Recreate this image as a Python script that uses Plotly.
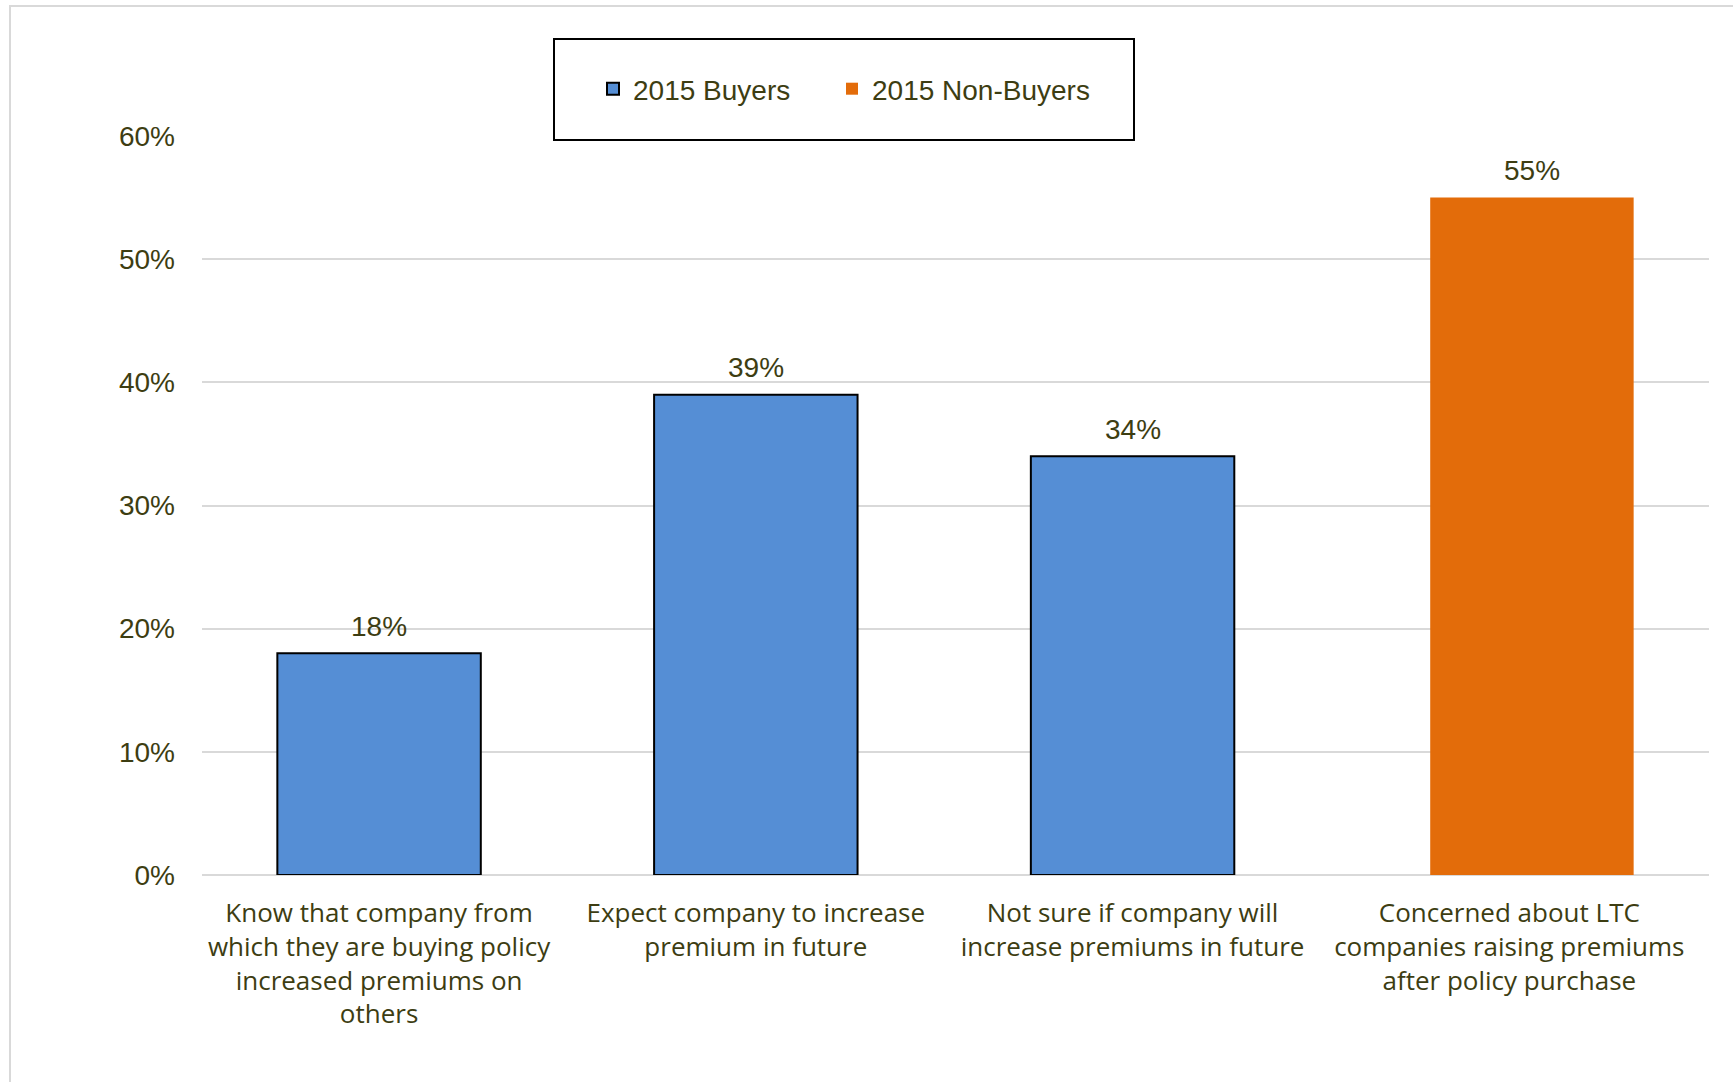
import plotly.graph_objects as go

# Survey responses about LTC premium increases
categories = [
    "Know that company from<br>which they are buying policy<br>increased premiums on<br>others",
    "Expect company to increase<br>premium in future",
    "Not sure if company will<br>increase premiums in future",
    "Concerned about LTC<br>companies raising premiums<br>after policy purchase",
]
buyers_2015 = [0.18, 0.39, 0.34, None]
non_buyers_2015 = [None, None, None, 0.55]
y_ticks = [0.0, 0.1, 0.2, 0.3, 0.4, 0.5, 0.6]

TEXT = "#3d3d12"
BLUE = "#558ed5"
ORANGE = "#e36c0a"
GRID = "#d9d9d9"

x_idx = list(range(len(categories)))
BAR_W = 0.54
series = [
    ("2015 Buyers", buyers_2015, -0.30, BLUE, dict(color="#000000", width=2), "legend"),
    ("2015 Non-Buyers", non_buyers_2015, -0.24, ORANGE, dict(width=0), "legend2"),
]

fig = go.Figure()
annotations = []
for name, vals, off, color, outline, leg in series:
    fig.add_trace(go.Bar(
        name=name, x=x_idx, y=vals,
        width=BAR_W, offset=off,
        marker=dict(color=color, line=outline),
        legend=leg,
    ))
    # value labels above each bar
    for xi, v in zip(x_idx, vals):
        if v is None:
            continue
        annotations.append(dict(
            x=xi + off + BAR_W / 2, y=v, xref="x", yref="y",
            text=f"{v:.0%}", showarrow=False,
            yanchor="middle", yshift=27,
            font=dict(family="Liberation Sans", size=28, color=TEXT),
        ))

L, R, T, B = 202, 24, 136, 207
W, H = 1733, 1082
pw, ph = W - L - R, H - T - B

def px_x(v):
    return (v - L) / pw

def px_y(v):
    return (H - B - v) / ph

legend_style = dict(
    orientation="h", xanchor="left", yanchor="middle", y=px_y(89),
    font=dict(family="Liberation Sans", size=28, color=TEXT),
    bgcolor="rgba(0,0,0,0)", borderwidth=0,
)

fig.update_layout(
    width=W, height=H, autosize=False,
    margin=dict(l=L, r=R, t=T, b=B, pad=0),
    paper_bgcolor="white", plot_bgcolor="white",
    barmode="overlay",
    showlegend=True,
    legend=dict(x=px_x(593), **legend_style),
    legend2=dict(x=px_x(832), **legend_style),
    annotations=annotations,
    xaxis=dict(
        tickmode="array", tickvals=[i - 0.03 for i in x_idx], ticktext=categories,
        range=[-0.5, 3.5], showgrid=False, zeroline=False,
        showline=False, ticks="",
        tickfont=dict(family="Open Sans", size=26, color=TEXT),
        ticklabelstandoff=20,
    ),
    yaxis=dict(
        range=[0, 0.6], tickvals=y_ticks, tickformat=".0%",
        showgrid=True, gridcolor=GRID, gridwidth=2,
        zeroline=True, zerolinecolor=GRID, zerolinewidth=2,
        showline=False, ticks="",
        tickfont=dict(family="Liberation Sans", size=28, color=TEXT),
        ticklabelstandoff=26,
    ),
    shapes=[
        # outer chart frame
        dict(type="rect", xref="paper", yref="paper",
             x0=px_x(10), x1=px_x(1745), y0=px_y(1095), y1=px_y(6),
             line=dict(color=GRID, width=2), fillcolor="rgba(0,0,0,0)",
             layer="below"),
        # legend frame
        dict(type="rect", xref="paper", yref="paper",
             x0=px_x(554), x1=px_x(1134), y0=px_y(140), y1=px_y(39),
             line=dict(color="#000000", width=2), fillcolor="white",
             layer="above"),
    ],
)

fig.write_html("out.html")
